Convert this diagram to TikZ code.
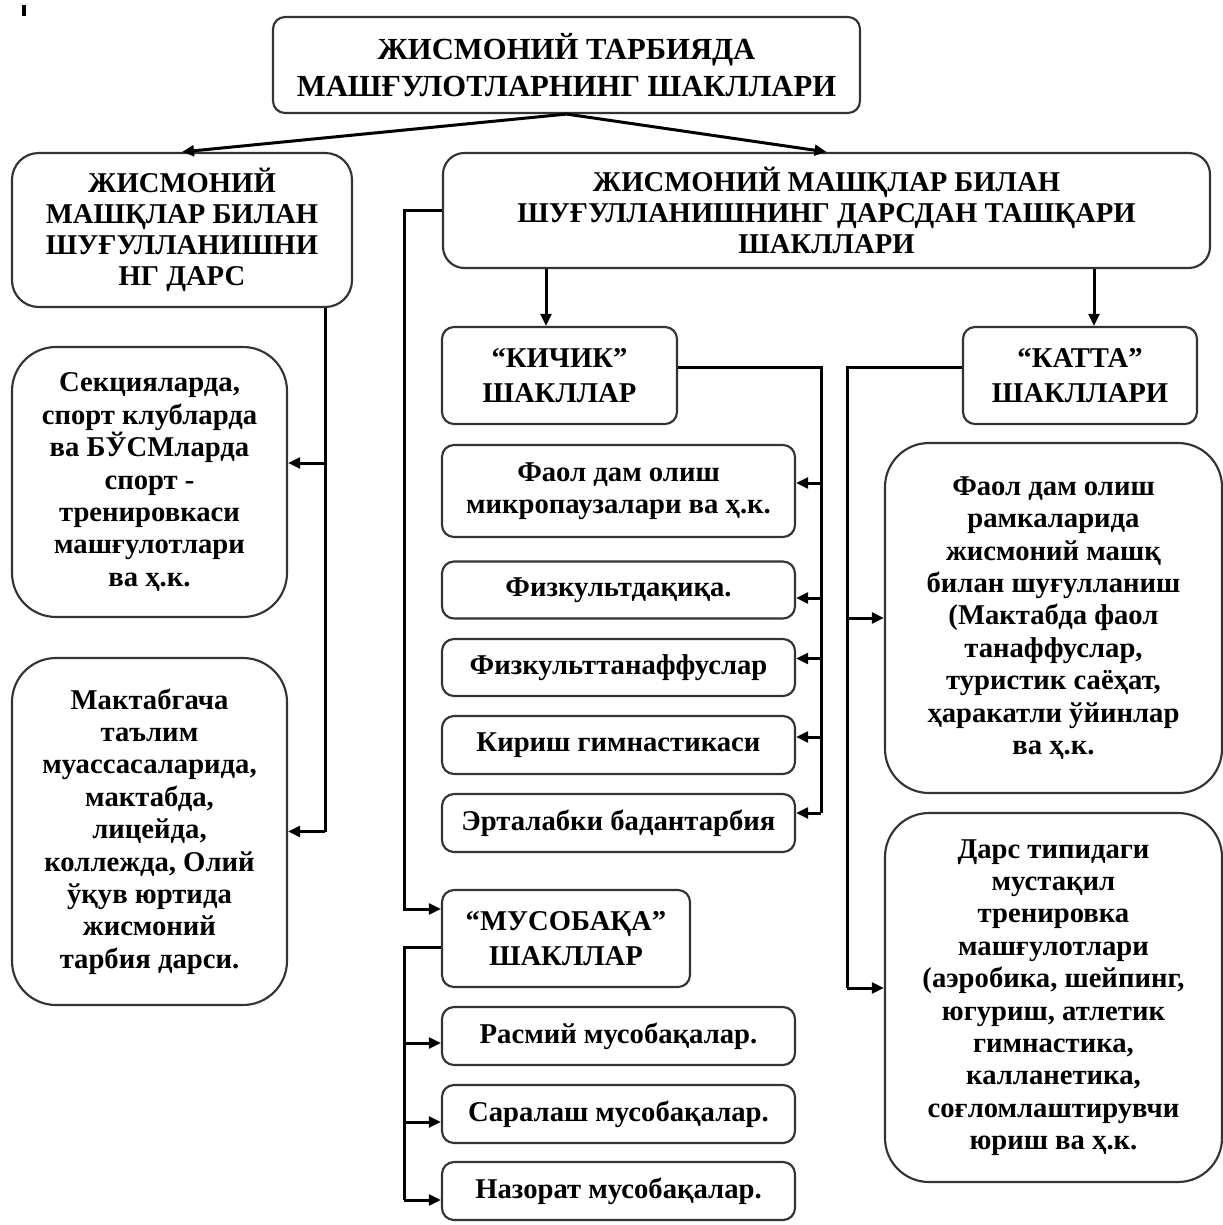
\documentclass[tikz,border=0pt]{standalone}
\usepackage{fontspec}
\setmainfont{Liberation Serif}
\usetikzlibrary{arrows.meta,calc}
\begin{document}
\begin{tikzpicture}[x=0.75pt,y=-0.75pt,
  box/.style={draw=black!80, line width=1.6pt, fill=white, rounded corners=9pt,
    align=center, inner sep=0pt, text=black},
  title/.style={font=\bfseries\fontsize{23}{28}\selectfont},
  caps/.style={font=\bfseries\fontsize{21.5}{23.25}\selectfont},
  label/.style={font=\bfseries\fontsize{21.5}{26}\selectfont},
  lower/.style={font=\bfseries\fontsize{21.5}{24.3}\selectfont},
  round/.style={rounded corners=33pt},
  wh/.style 2 args={minimum width=#1*0.75pt, minimum height=#2*0.75pt},
  link/.style={line width=2.25pt, black},
  tip/.style={-{Triangle[length=9pt,width=8pt]}}
]
% page frame
\useasboundingbox (0,0) rectangle (1223,1225);
\fill[white] (0,0) rectangle (1223,1225);
\fill[black] (22,5) rectangle (26,16);

% --- top level
\node[box,title,wh={587}{96}] (top) at (566.5,65)
  {ЖИСМОНИЙ ТАРБИЯДА\\МАШҒУЛОТЛАРНИНГ ШАКЛЛАРИ};

% --- second level
\node[box,caps,wh={340}{154},rounded corners=20pt] (les) at (182,230)
  {ЖИСМОНИЙ\\МАШҚЛАР БИЛАН\\ШУҒУЛЛАНИШНИ\\НГ ДАРС};
\node[box,caps,wh={767}{115},rounded corners=16pt] (ext) at (826.5,210.5)
  {ЖИСМОНИЙ МАШҚЛАР БИЛАН\\ШУҒУЛЛАНИШНИНГ ДАРСДАН ТАШҚАРИ\\ШАКЛЛАРИ};

% --- lesson forms
\node[box,lower,round,wh={275}{270}] (l1) at (149.5,482)
  {Секцияларда,\\спорт клубларда\\ва БЎСМларда\\спорт -\\тренировкаси\\машғулотлари\\ва ҳ.к.};
\node[box,lower,round,wh={275}{347}] (l2) at (149.5,831.5)
  {Мактабгача\\таълим\\муассасаларида,\\мактабда,\\лицейда,\\коллежда, Олий\\ўқув юртида\\жисмоний\\тарбия дарси.};

% --- "small" forms
\node[box,label,wh={235}{97}] (kichik) at (559.5,375.5) {“КИЧИК”\\ШАКЛЛАР};
\node[box,lower,wh={353}{92}] (k1) at (618.5,491) {Фаол дам олиш\\микропаузалари ва ҳ.к.};
\node[box,lower,wh={353}{57}] (k2) at (618.5,590) {Физкультдақиқа.};
\node[box,lower,wh={353}{57}] (k3) at (618.5,667.5) {Физкульттанаффуслар};
\node[box,lower,wh={353}{58}] (k4) at (618.5,745) {Кириш гимнастикаси};
\node[box,lower,wh={353}{58}] (k5) at (618.5,823) {Эрталабки бадантарбия};

% --- competition forms
\node[box,label,wh={248}{97}] (mus) at (566,938.5) {“МУСОБАҚА”\\ШАКЛЛАР};
\node[box,lower,wh={353}{58}] (m1) at (618.5,1036) {Расмий мусобақалар.};
\node[box,lower,wh={353}{58}] (m2) at (618.5,1114) {Саралаш мусобақалар.};
\node[box,lower,wh={353}{58}] (m3) at (618.5,1191) {Назорат мусобақалар.};

% --- "large" forms
\node[box,label,wh={234}{97}] (katta) at (1080,375.5) {“КАТТА”\\ШАКЛЛАРИ};
\node[box,lower,round,wh={337}{350}] (r1) at (1053.5,618)
  {Фаол дам олиш\\рамкаларида\\жисмоний машқ\\билан шуғулланиш\\(Мактабда фаол\\танаффуслар,\\туристик саёҳат,\\ҳаракатли ўйинлар\\ва ҳ.к.};
\node[box,lower,round,wh={337}{369}] (r2) at (1053.5,997.5)
  {Дарс типидаги\\мустақил\\тренировка\\машғулотлари\\(аэробика, шейпинг,\\югуриш, атлетик\\гимнастика,\\калланетика,\\соғломлаштирувчи\\юриш ва ҳ.к.};

% --- bus positions
\coordinate (lbus) at (325,0);
\coordinate (xbus) at (404,0);
\coordinate (kbus) at (821,0);
\coordinate (tbus) at (847,0);
\coordinate (ka) at (546,0);
\coordinate (kb) at (1094,0);

% --- connectors
\draw[link,tip] (top.south) -- (les.north);
\draw[link,tip] (top.south) -- (ext.north);

\draw[link] (lbus |- les.south) -- (lbus |- l2.east);
\draw[link,tip] ($(lbus |- l1.east)+(0,-19)$) -- ($(l1.east)+(0,-19)$);
\draw[link,tip] (lbus |- l2.east) -- (l2.east);

\draw[link,tip] (ext.west) -- (xbus |- ext.west) -- ($(xbus |- mus.west)+(0,-29.5)$)
  -- ($(mus.west)+(0,-29.5)$);
\draw[link,tip] (ka |- ext.south) -- (ka |- kichik.north);
\draw[link,tip] (kb |- ext.south) -- (kb |- katta.north);

% small forms bus
\draw[link] ($(kichik.east)+(0,-8.5)$) -- ($(kbus |- kichik.east)+(0,-8.5)$) -- ($(kbus |- k5.east)+(0,-10)$);
\draw[link,tip] ($(kbus |- k1.east)+(0,-8)$) -- ($(k1.east)+(0,-8)$);
\draw[link,tip] ($(kbus |- k2.east)+(0,8)$) -- ($(k2.east)+(0,8)$);
\draw[link,tip] ($(kbus |- k3.east)+(0,-9)$) -- ($(k3.east)+(0,-9)$);
\draw[link,tip] ($(kbus |- k4.east)+(0,-8)$) -- ($(k4.east)+(0,-8)$);
\draw[link,tip] ($(kbus |- k5.east)+(0,-10)$) -- ($(k5.east)+(0,-10)$);

% large forms bus
\draw[link] ($(katta.west)+(0,-8.5)$) -- ($(tbus |- katta.west)+(0,-8.5)$) -- ($(tbus |- r2.west)+(0,-9.5)$);
\draw[link,tip] (tbus |- r1.west) -- (r1.west);
\draw[link,tip] ($(tbus |- r2.west)+(0,-9.5)$) -- ($(r2.west)+(0,-9.5)$);

% competition bus
\draw[link] ($(mus.west)+(0,8.5)$) -- ($(xbus |- mus.west)+(0,8.5)$) -- ($(xbus |- m3.west)+(0,9)$);
\draw[link,tip] ($(xbus |- m1.west)+(0,7)$) -- ($(m1.west)+(0,7)$);
\draw[link,tip] ($(xbus |- m2.west)+(0,8)$) -- ($(m2.west)+(0,8)$);
\draw[link,tip] ($(xbus |- m3.west)+(0,9)$) -- ($(m3.west)+(0,9)$);
\end{tikzpicture}
\end{document}
